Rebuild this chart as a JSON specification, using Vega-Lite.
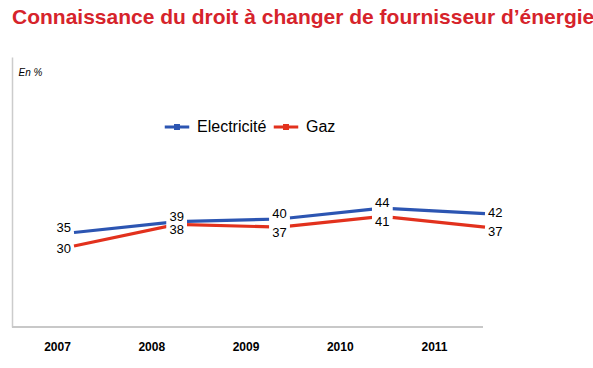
{
  "$schema": "https://vega.github.io/schema/vega-lite/v6.json",
  "autosize": {"type": "none"},
  "width": 471,
  "height": 270,
  "padding": {"left": 12, "top": 57, "right": 110, "bottom": 41},
  "background": "white",
  "config": {"view": {"stroke": null}, "font": "Liberation Sans"},
  "title": {
    "text": "Connaissance du droit à changer de fournisseur d’énergie",
    "anchor": "start",
    "frame": "group",
    "color": "#d6232b",
    "fontSize": 21,
    "fontWeight": "bold",
    "font": "Liberation Sans",
    "offset": 29
  },
  "data": {
    "values": [
      {"year": 2007, "serie": "Electricité", "value": 35},
      {"year": 2008, "serie": "Electricité", "value": 39},
      {"year": 2009, "serie": "Electricité", "value": 40},
      {"year": 2010, "serie": "Electricité", "value": 44},
      {"year": 2011, "serie": "Electricité", "value": 42},
      {"year": 2007, "serie": "Gaz", "value": 30},
      {"year": 2008, "serie": "Gaz", "value": 38},
      {"year": 2009, "serie": "Gaz", "value": 37},
      {"year": 2010, "serie": "Gaz", "value": 41},
      {"year": 2011, "serie": "Gaz", "value": 37}
    ]
  },
  "encoding": {
    "x": {
      "field": "year",
      "type": "ordinal",
      "scale": {"range": [62, 473], "padding": 0},
      "axis": {
        "title": null,
        "labelAngle": 0,
        "domain": false,
        "ticks": false,
        "labelFontWeight": "bold",
        "labelFontSize": 12,
        "labelColor": "black",
        "labelPadding": 14,
        "labelOffset": {"expr": "-17 - 8.5*(datum.value-2007)"}
      }
    },
    "y": {
      "field": "value",
      "type": "quantitative",
      "scale": {"domain": [0, 100], "nice": false},
      "axis": {
        "title": "En %",
        "titleAngle": 0,
        "titleX": 6,
        "titleY": 15,
        "titleAlign": "left",
        "titleBaseline": "middle",
        "titleFontSize": 10,
        "titleFontStyle": "italic",
        "titleFontWeight": "normal",
        "titleColor": "black",
        "labels": false,
        "ticks": false,
        "grid": false,
        "domainColor": "#cccccc",
        "domainWidth": 1.5
      }
    }
  },
  "layer": [
    {
      "mark": {"type": "rule", "color": "#c8c8c8", "strokeWidth": 2},
      "encoding": {"x": null, "y": {"datum": 0, "type": "quantitative"}}
    },
    {
      "mark": {"type": "line", "strokeWidth": 3.2},
      "encoding": {
        "color": {
          "field": "serie",
          "type": "nominal",
          "scale": {"domain": ["Electricité", "Gaz"], "range": ["#2c55b2", "#e2311d"]},
          "legend": {
            "title": null,
            "orient": "none",
            "direction": "horizontal",
            "legendX": 151,
            "legendY": 56,
            "labelFontSize": 16,
            "labelColor": "black",
            "symbolType": "M-1,0H1M-0.12,-0.12H0.12V0.12H-0.12Z",
            "symbolSize": 600,
            "symbolStrokeWidth": 3,
            "labelOffset": 6,
            "columnPadding": 0
          }
        }
      }
    },
    {
      "transform": [{"filter": "datum.year > 2007 && datum.year < 2011"}],
      "mark": {"type": "point", "shape": "square", "filled": true, "color": "white", "size": 420, "opacity": 1}
    },
    {
      "transform": [{"filter": "datum.serie == 'Electricité' && datum.year == 2007"}],
      "mark": {"type": "text", "align": "right", "baseline": "middle", "dx": -3, "dy": -5, "fontSize": 13, "color": "black"},
      "encoding": {"text": {"field": "value"}}
    },
    {
      "transform": [{"filter": "datum.serie == 'Electricité' && datum.year > 2007 && datum.year < 2011"}],
      "mark": {"type": "text", "align": "center", "baseline": "middle", "dy": -5, "fontSize": 13, "color": "black"},
      "encoding": {"text": {"field": "value"}}
    },
    {
      "transform": [{"filter": "datum.serie == 'Electricité' && datum.year == 2011"}],
      "mark": {"type": "text", "align": "left", "baseline": "middle", "dx": 3, "dy": -1, "fontSize": 13, "color": "black"},
      "encoding": {"text": {"field": "value"}}
    },
    {
      "transform": [{"filter": "datum.serie == 'Gaz' && datum.year == 2007"}],
      "mark": {"type": "text", "align": "right", "baseline": "middle", "dx": -3, "dy": 3, "fontSize": 13, "color": "black"},
      "encoding": {"text": {"field": "value"}}
    },
    {
      "transform": [{"filter": "datum.serie == 'Gaz' && datum.year > 2007 && datum.year < 2011"}],
      "mark": {"type": "text", "align": "center", "baseline": "middle", "dy": 6, "fontSize": 13, "color": "black"},
      "encoding": {"text": {"field": "value"}}
    },
    {
      "transform": [{"filter": "datum.serie == 'Gaz' && datum.year == 2011"}],
      "mark": {"type": "text", "align": "left", "baseline": "middle", "dx": 3, "dy": 5, "fontSize": 13, "color": "black"},
      "encoding": {"text": {"field": "value"}}
    }
  ]
}
